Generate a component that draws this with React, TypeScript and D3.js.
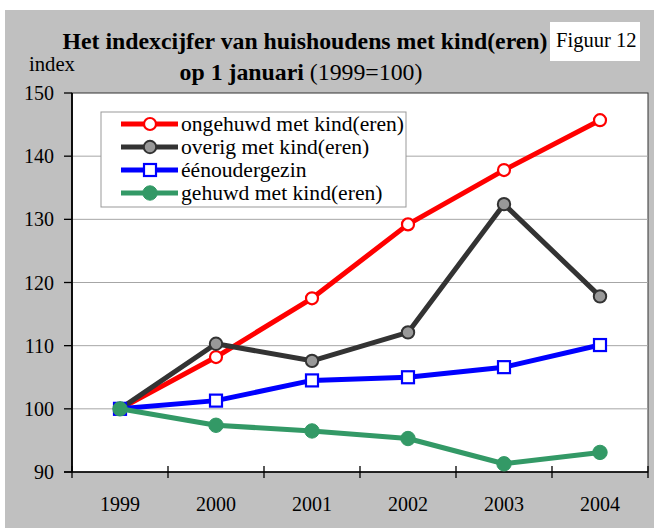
import React from "react";
import * as d3 from "d3";

const years = ["1999", "2000", "2001", "2002", "2003", "2004"];
const yTicks = [90, 100, 110, 120, 130, 140, 150];
const ongehuwd = [100, 108.2, 117.5, 129.2, 137.8, 145.7];
const overig = [100, 110.3, 107.6, 112.1, 132.4, 117.8];
const eenouder = [100, 101.3, 104.5, 105.0, 106.6, 110.1];
const gehuwd = [100, 97.4, 96.5, 95.3, 91.3, 93.1];
const seriesNames = [
  "ongehuwd met kind(eren)",
  "overig met kind(eren)",
  "éénoudergezin",
  "gehuwd met kind(eren)",
];

type Marker = "openCircle" | "grayCircle" | "openSquare" | "filledCircle";
const styles: { color: string; marker: Marker; fill: string; mstroke: string }[] = [
  { color: "#ff0000", marker: "openCircle", fill: "#ffffff", mstroke: "#ff0000" },
  { color: "#333333", marker: "grayCircle", fill: "#999999", mstroke: "#333333" },
  { color: "#0000ff", marker: "openSquare", fill: "#ffffff", mstroke: "#0000ff" },
  { color: "#339966", marker: "filledCircle", fill: "#339966", mstroke: "#339966" },
];

function MarkerShape({ x, y, s }: { x: number; y: number; s: (typeof styles)[number] }) {
  if (s.marker === "openSquare") {
    return <rect x={x - 6} y={y - 6} width={12} height={12} fill={s.fill} stroke={s.mstroke} strokeWidth={2.2} />;
  }
  if (s.marker === "openCircle") {
    return <circle cx={x} cy={y} r={6} fill={s.fill} stroke={s.mstroke} strokeWidth={2.2} />;
  }
  if (s.marker === "grayCircle") {
    return <circle cx={x} cy={y} r={6.2} fill={s.fill} stroke={s.mstroke} strokeWidth={2} />;
  }
  return <circle cx={x} cy={y} r={7.2} fill={s.fill} stroke={s.mstroke} strokeWidth={1} />;
}

function T(props: any) {
  const { children, style, ...rest } = props;
  return (
    <text fill="#000" {...rest} style={{ fontFamily: "Liberation Serif", ...(style || {}) }}>
      {children}
    </text>
  );
}

export default function App() {
  const left = 72, right = 648, top = 93, bottom = 472;
  const x = d3.scaleBand<string>().domain(years).range([left, right]).padding(0);
  const y = d3.scaleLinear().domain([90, 150]).range([bottom, top]);
  const cx = (yr: string) => (x(yr) as number) + x.bandwidth() / 2;
  const line = d3
    .line<number>()
    .x((_, i) => cx(years[i]))
    .y((v) => y(v));
  const data = [ongehuwd, overig, eenouder, gehuwd];
  const boundaries = [...years.map((yr) => x(yr) as number), right];

  const legendX = 101, legendY = 112, legendW = 305, legendH = 95;
  const rowY = (i: number) => 124 + i * 23;

  return (
    <svg width={654} height={528} style={{ position: "absolute", left: 0, top: 0, background: "#ffffff" }}>
      <style>{`text, tspan { font-family: "Liberation Serif", serif; }`}</style>
      <rect x={5} y={10} width={649} height={518} fill="#c0c0c0" />
      <rect x={left} y={top} width={right - left} height={bottom - top} fill="#ffffff" stroke="#333333" strokeWidth={1} />
      {yTicks
        .filter((t) => t > 90 && t < 150)
        .map((t) => (
          <line key={t} x1={left} x2={right} y1={y(t)} y2={y(t)} stroke="#a6a6a6" strokeWidth={1} />
        ))}
      <line x1={left} x2={left} y1={top} y2={bottom} stroke="#000" strokeWidth={1.8} />
      {yTicks.map((t) => (
        <g key={t}>
          <line x1={left - 8} x2={left} y1={y(t)} y2={y(t)} stroke="#000" strokeWidth={1.3} />
          <T x={54} y={y(t) + 7} textAnchor="end" fontSize={20}>
            {t}
          </T>
        </g>
      ))}
      <line x1={left - 8} x2={right} y1={bottom} y2={bottom} stroke="#000" strokeWidth={1.5} />
      {boundaries.map((b, i) => (
        <line key={i} x1={b} x2={b} y1={bottom - 6} y2={bottom + 6} stroke="#000" strokeWidth={1.3} />
      ))}
      {years.map((yr) => (
        <T key={yr} x={cx(yr)} y={511} textAnchor="middle" fontSize={20}>
          {yr}
        </T>
      ))}
      {data.map((d, si) => (
        <g key={si}>
          <path d={line(d) as string} fill="none" stroke={styles[si].color} strokeWidth={5} strokeLinejoin="round" />
          {d.map((v, i) => (
            <MarkerShape key={i} x={cx(years[i])} y={y(v)} s={styles[si]} />
          ))}
        </g>
      ))}
      <rect x={legendX} y={legendY} width={legendW} height={legendH} fill="#ffffff" stroke="#999999" strokeWidth={1} />
      {seriesNames.map((name, i) => (
        <g key={name}>
          <line x1={121} x2={178} y1={rowY(i)} y2={rowY(i)} stroke={styles[i].color} strokeWidth={5} />
          <MarkerShape x={150} y={rowY(i)} s={styles[i]} />
          <T x={181} y={rowY(i) + 7} fontSize={21.6}>
            {name}
          </T>
        </g>
      ))}
      <T x={305} y={49} textAnchor="middle" fontSize={23.8} fontWeight="bold">
        Het indexcijfer van huishoudens met kind(eren)
      </T>
      <T x={301} y={80} textAnchor="middle" fontSize={23.8}>
        <tspan fontWeight="bold">op 1 januari</tspan>
        <tspan> (1999=100)</tspan>
      </T>
      <T x={29} y={71} fontSize={20.7}>
        index
      </T>
      <rect x={550} y={22} width={90} height={39} fill="#ffffff" />
      <T x={556} y={47} fontSize={20.6}>
        Figuur 12
      </T>
    </svg>
  );
}
